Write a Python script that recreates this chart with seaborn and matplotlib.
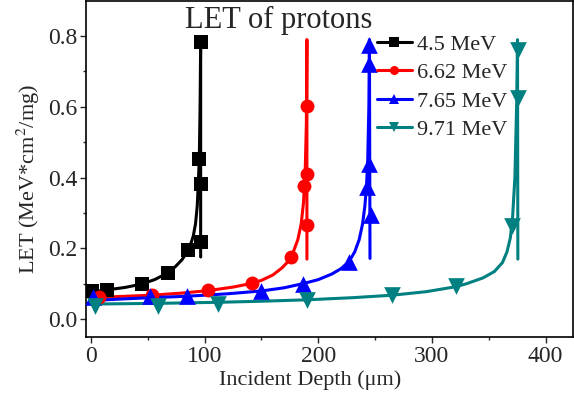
import matplotlib
matplotlib.use("Agg")
import matplotlib.pyplot as plt
import seaborn as sns
import pandas as pd
from matplotlib.lines import Line2D

# ---- data ----
labels = ["4.5 MeV", "6.62 MeV", "7.65 MeV", "9.71 MeV"]
colors = ["#000000", "#FF0000", "#0000FF", "#008080"]
markers = ["s", "o", "^", "v"]

# smooth curve points (depth in um, LET)
line_45_x = [0, 14, 30, 44, 56, 67, 74, 80, 84, 87, 90, 92, 93.5, 94.5, 95.3, 96, 96.5, 96.5]
line_45_y = [0.077, 0.083, 0.090, 0.099, 0.112, 0.130, 0.148, 0.168, 0.187, 0.205, 0.235, 0.270, 0.320, 0.390, 0.454, 0.600, 0.785, 0.176]
line_662_x = [0, 7, 30, 53, 80, 103, 125, 141, 150, 160, 168, 174, 178, 182, 185, 187, 188.5, 189.5, 190, 190]
line_662_y = [0.058, 0.062, 0.065, 0.068, 0.074, 0.081, 0.091, 0.101, 0.110, 0.125, 0.145, 0.165, 0.190, 0.225, 0.270, 0.330, 0.420, 0.550, 0.790, 0.170]
line_765_x = [0, 25, 52, 84, 120, 150, 170, 187, 200, 212, 220, 227, 232, 236, 239, 241, 242.5, 243.5, 244.5, 245, 245.5]
line_765_y = [0.053, 0.057, 0.061, 0.065, 0.072, 0.080, 0.089, 0.101, 0.112, 0.128, 0.143, 0.163, 0.190, 0.225, 0.270, 0.320, 0.380, 0.450, 0.600, 0.790, 0.172]
line_971_x = [0, 59, 112, 150, 190, 230, 265, 295, 321, 330, 345, 355, 362, 366, 369, 371, 373, 374.5, 375.3, 375.6]
line_971_y = [0.043, 0.045, 0.048, 0.051, 0.055, 0.061, 0.068, 0.078, 0.092, 0.100, 0.117, 0.135, 0.160, 0.190, 0.230, 0.290, 0.400, 0.600, 0.790, 0.170]

# marker points
mark_45_x = [0.6, 13.8, 44.6, 67.5, 85.7, 96.8, 96.5, 95.3, 96.5]
mark_45_y = [0.080, 0.084, 0.099, 0.131, 0.197, 0.218, 0.381, 0.454, 0.783]
mark_662_x = [7, 53.4, 102.7, 141.5, 175.8, 190.5, 187.5, 189.8, 189.8]
mark_662_y = [0.063, 0.068, 0.082, 0.1025, 0.176, 0.266, 0.377, 0.411, 0.602]
mark_765_x = [2, 52, 84.2, 149.6, 186.9, 227, 246.1, 243.2, 245, 245, 245]
mark_765_y = [0.063, 0.065, 0.065, 0.080, 0.101, 0.163, 0.294, 0.374, 0.440, 0.722, 0.774]
mark_971_x = [3.5, 59, 112, 190.5, 264.6, 321, 370.3, 375.3, 375.3]
mark_971_y = [0.037, 0.037, 0.044, 0.054, 0.068, 0.093, 0.263, 0.625, 0.762]

lines_x = [line_45_x, line_662_x, line_765_x, line_971_x]
lines_y = [line_45_y, line_662_y, line_765_y, line_971_y]
marks_x = [mark_45_x, mark_662_x, mark_765_x, mark_971_x]
marks_y = [mark_45_y, mark_662_y, mark_765_y, mark_971_y]
marker_sizes = [10, 10, 12, 12]

xticks = [0, 100, 200, 300, 400]
yticks = [0.0, 0.2, 0.4, 0.6, 0.8]

sns.set_style("ticks")
plt.rcParams["font.family"] = ["Liberation Serif", "DejaVu Serif"]
plt.rcParams["mathtext.fontset"] = "stix"

fig = plt.figure(figsize=(5.74, 3.98), dpi=100)
ax = fig.add_axes([0.1498, 0.1533, 0.8482, 0.845])

handles = []
for lx, ly, mx, my, c, m, ms, lab in zip(lines_x, lines_y, marks_x, marks_y,
                                           colors, markers, marker_sizes, labels):
    dl = pd.DataFrame({"x": lx, "y": ly})
    sns.lineplot(data=dl, x="x", y="y", sort=False, estimator=None, color=c,
                 linewidth=2.2, ax=ax, legend=False)
    dm = pd.DataFrame({"x": mx, "y": my})
    sns.scatterplot(data=dm, x="x", y="y", marker=m, s=ms ** 2, color=c,
                    linewidth=0, ax=ax, legend=False, zorder=3)
    handles.append(Line2D([], [], color=c, lw=2.2, marker=m, markersize=ms * 0.65,
                          markeredgewidth=0, label=lab))

ax.set_xlim(-4.4, 424)
ax.set_ylim(-0.05, 0.90)
ax.set_xticks(xticks)
ax.set_xticklabels([str(v) for v in xticks])
ax.set_yticks(yticks)
ax.set_yticklabels([f"{v:.1f}" for v in yticks])
ax.set_xticks([50, 150, 250, 350], minor=True)
ax.set_yticks([0.1, 0.3, 0.5, 0.7], minor=True)
ax.tick_params(which="major", direction="out", length=4.3, width=1.0, labelsize=17, pad=2)
ax.tick_params(which="minor", direction="out", length=2.2, width=1.0)
for s in ax.spines.values():
    s.set_visible(True)
    s.set_linewidth(1.2)
    s.set_color("black")

ax.set_xlabel("Incident Depth (μm)", fontsize=16, labelpad=0)
ax.set_ylabel("LET (MeV*cm$^2$/mg)", fontsize=16, labelpad=4)
ax.yaxis.set_label_coords(-0.09, 0.47)
ax.xaxis.set_label_coords(0.46, -0.1)

ax.text(82.7, 0.822, "LET of protons", fontsize=22, ha="left", va="baseline")

ax.legend(handles=handles, loc="upper left", bbox_to_anchor=(0.597, 0.90),
          frameon=False, fontsize=16, handlelength=1.57, handletextpad=0.25,
          labelspacing=0.35, borderpad=0, borderaxespad=0)

fig.savefig("out.png", dpi=100)
